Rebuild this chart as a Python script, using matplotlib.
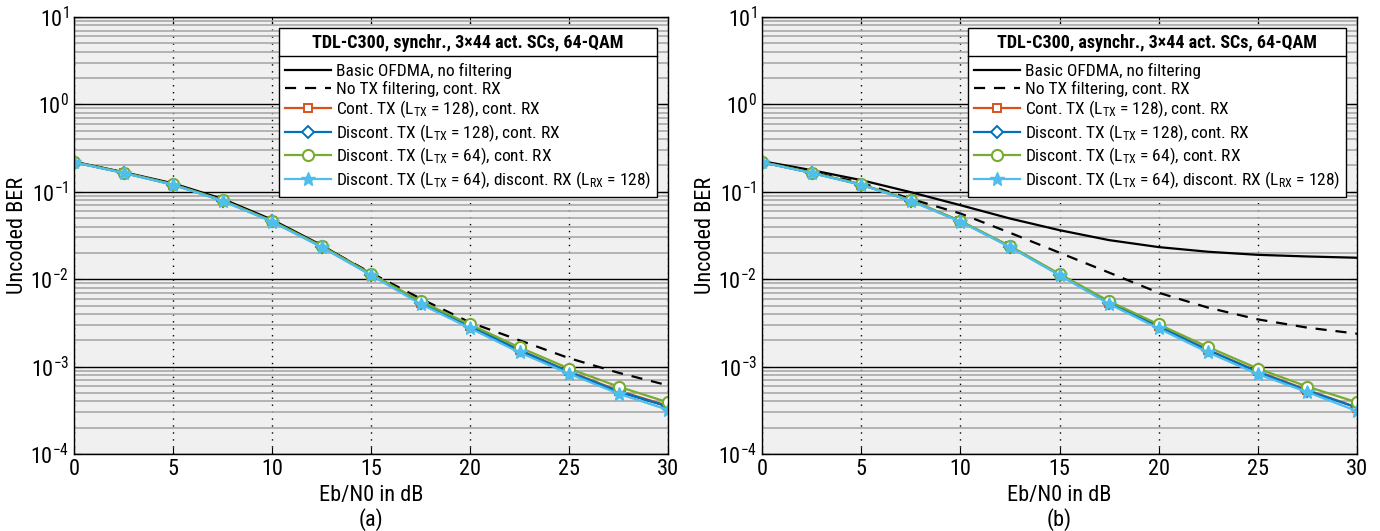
import matplotlib
matplotlib.use("Agg")
import matplotlib.pyplot as plt
from matplotlib import font_manager
from matplotlib.lines import Line2D
from matplotlib.ticker import LogLocator, NullFormatter, MultipleLocator

# pick a narrow face if one is around
names = {f.name for f in font_manager.fontManager.ttflist}
narrow = None
for cand in ['Liberation Sans Narrow', 'Roboto Condensed', 'Open Sans Condensed', 'DejaVu Sans Condensed']:
    if cand in names:
        narrow = cand
        break
if narrow is None:
    narrow = 'DejaVu Sans'
    plt.rcParams['font.stretch'] = 'condensed'
    mfont = 'DejaVu Sans:stretch=condensed'
else:
    mfont = narrow
plt.rcParams['font.family'] = [narrow, 'DejaVu Sans']
plt.rcParams['mathtext.fontset'] = 'custom'
plt.rcParams['mathtext.rm'] = mfont
plt.rcParams['mathtext.it'] = mfont
plt.rcParams['mathtext.bf'] = mfont + ':bold'

# Eb/N0 grid in dB
ebn0 = [0, 2.5, 5, 7.5, 10, 12.5, 15, 17.5, 20, 22.5, 25, 27.5, 30]

# synchronous case
sync_basic = [0.221, 0.168, 0.125, 0.083, 0.048, 0.0245, 0.0115, 0.0055, 0.0029, 0.00152, 0.00087, 0.00052, 0.00035]
sync_notx = [0.219, 0.166, 0.122, 0.080, 0.0465, 0.0240, 0.0118, 0.0060, 0.0032, 0.0020, 0.00125, 0.00085, 0.00061]
sync_cont128 = [0.218, 0.165, 0.121, 0.0796, 0.0461, 0.0237, 0.0113, 0.0054, 0.00292, 0.00155, 0.00088, 0.00053, 0.000355]
sync_disc128 = [0.218, 0.165, 0.121, 0.0795, 0.0460, 0.0236, 0.0113, 0.0054, 0.00290, 0.00154, 0.00087, 0.00052, 0.00035]
sync_disc64 = [0.219, 0.166, 0.122, 0.0800, 0.0465, 0.0240, 0.0115, 0.0056, 0.00304, 0.00166, 0.00095, 0.00059, 0.00039]
sync_disc64rx = [0.217, 0.164, 0.120, 0.0785, 0.0455, 0.0233, 0.0111, 0.0052, 0.00275, 0.00145, 0.00083, 0.00049, 0.00032]

# asynchronous case
async_basic = [0.224, 0.177, 0.136, 0.099, 0.0703, 0.0495, 0.0364, 0.0280, 0.0233, 0.0206, 0.0190, 0.0182, 0.0176]
async_notx = [0.220, 0.168, 0.127, 0.083, 0.0565, 0.0340, 0.0201, 0.0119, 0.0070, 0.00472, 0.00347, 0.00279, 0.00238]
async_cont128 = [0.218, 0.165, 0.121, 0.0796, 0.0461, 0.0237, 0.0113, 0.0054, 0.00290, 0.00155, 0.00088, 0.00054, 0.00034]
async_disc128 = [0.218, 0.165, 0.121, 0.0795, 0.0460, 0.0236, 0.0113, 0.0054, 0.00288, 0.00154, 0.00087, 0.00053, 0.00034]
async_disc64 = [0.219, 0.166, 0.122, 0.0800, 0.0465, 0.0240, 0.0115, 0.0056, 0.00304, 0.00167, 0.00095, 0.00059, 0.00039]
async_disc64rx = [0.217, 0.164, 0.120, 0.0785, 0.0455, 0.0233, 0.0111, 0.0052, 0.00273, 0.00145, 0.00082, 0.00051, 0.00031]

labels = ['Basic OFDMA, no filtering',
          'No TX filtering, cont. RX',
          r'Cont. TX (L$_\mathregular{TX}$ = 128), cont. RX',
          r'Discont. TX (L$_\mathregular{TX}$ = 128), cont. RX',
          r'Discont. TX (L$_\mathregular{TX}$ = 64), cont. RX',
          r'Discont. TX (L$_\mathregular{TX}$ = 64), discont. RX (L$_\mathregular{RX}$ = 128)']

titles = ['TDL-C300, synchr., 3\u00d744 act. SCs, 64-QAM',
          'TDL-C300, asynchr., 3\u00d744 act. SCs, 64-QAM']

c_orange = '#D95319'
c_blue = '#0072BD'
c_green = '#77AC30'
c_light = '#4DBEEE'

fig = plt.figure(figsize=(13.8, 5.31), dpi=100)
ax1 = fig.add_axes([74/1380, 77/531, 594/1380, 437/531])
ax2 = fig.add_axes([762/1380, 77/531, 595/1380, 437/531])

panels = [
    (ax1, [sync_basic, sync_notx, sync_cont128, sync_disc128, sync_disc64, sync_disc64rx], titles[0], '(a)'),
    (ax2, [async_basic, async_notx, async_cont128, async_disc128, async_disc64, async_disc64rx], titles[1], '(b)'),
]

legends = []
for ax, data, title, tag in panels:
    ax.set_facecolor('#f0f0f0')
    ax.plot(ebn0, data[0], color='black', lw=1.6, label=labels[0])
    ax.plot(ebn0, data[1], color='black', lw=1.6, ls=(0, (5, 4)), label=labels[1])
    ax.plot(ebn0, data[2], color=c_orange, lw=1.6, marker='s', ms=6, mfc='white', mew=1.4, label=labels[2])
    ax.plot(ebn0, data[3], color=c_blue, lw=1.6, marker='D', ms=6, mfc='white', mew=1.4, label=labels[3])
    ax.plot(ebn0, data[4], color=c_green, lw=1.6, marker='o', ms=8, mfc='white', mew=1.5, label=labels[4])
    ax.plot(ebn0, data[5], color=c_light, lw=1.6, marker='*', ms=10, mfc=c_light, mec=c_light, label=labels[5])

    ax.set_yscale('log')
    ax.set_ylim(1e-4, 10)
    ax.set_xlim(0, 30)
    ax.xaxis.set_major_locator(MultipleLocator(5))
    ax.yaxis.set_major_locator(LogLocator(base=10, numticks=10))
    ax.yaxis.set_minor_locator(LogLocator(base=10, subs=range(2, 10), numticks=20))
    ax.yaxis.set_minor_formatter(NullFormatter())

    ax.grid(True, which='minor', axis='y', color='#a8a8a8', lw=1.2, ls='-')
    ax.grid(True, which='major', axis='y', color='black', lw=1.0, ls='-')
    ax.grid(True, which='major', axis='x', color='black', lw=1.0, ls=(0, (1, 4)))
    ax.set_axisbelow(True)

    ax.tick_params(which='both', direction='in', top=True, right=True, labelsize=16)
    ax.tick_params(which='minor', length=0)
    ax.tick_params(which='major', length=5)
    for s in ax.spines.values():
        s.set_color('black')
        s.set_linewidth(1.0)

    ax.set_ylabel('Uncoded BER', fontsize=16)
    ax.yaxis.set_label_coords(-0.078, 0.5)
    ax.set_xlabel('Eb/N0 in dB\n' + tag, fontsize=16, labelpad=4, linespacing=1.1)

    leg = ax.legend(loc='upper right', bbox_to_anchor=(1 - 11/594, 1 - 11/437),
                    borderaxespad=0, fontsize=12.5, title=title, fancybox=False,
                    framealpha=1, edgecolor='black', handlelength=2.6,
                    handletextpad=0.3, labelspacing=0.1, borderpad=0.35)
    leg.get_title().set_fontweight('bold')
    leg.get_title().set_fontsize(13)
    leg.get_frame().set_linewidth(1.0)
    # room between the title and the entries for the separator
    leg._legend_box.sep = 8
    legends.append(leg)

# separator under each legend title
fig.canvas.draw()
r = fig.canvas.get_renderer()
for leg in legends:
    fb = leg.get_frame().get_window_extent(r)
    tb = leg.get_title().get_window_extent(r)
    y = (tb.y0 - 4) / fig.bbox.height
    fig.add_artist(Line2D([fb.x0 / fig.bbox.width, fb.x1 / fig.bbox.width], [y, y],
                          transform=fig.transFigure, color='black', lw=1.0))

fig.savefig('out.png', dpi=100)
